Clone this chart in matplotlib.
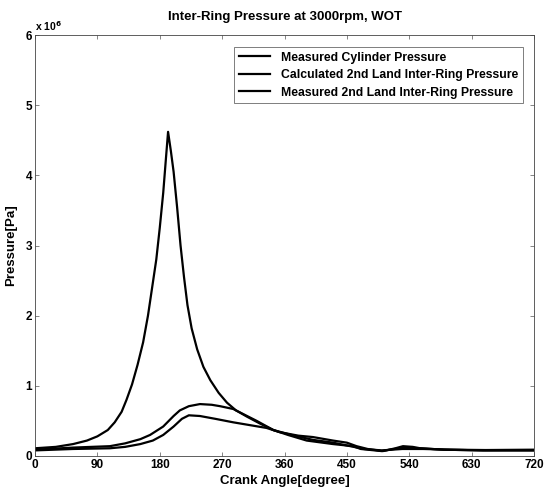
import matplotlib
matplotlib.use("Agg")
import matplotlib.pyplot as plt

plt.rcParams['font.family'] = ['Liberation Sans', 'DejaVu Sans']
plt.rcParams['font.weight'] = 'bold'

# Data (pressure in units of 1e6 Pa)
cyl_deg = [0, 30, 55, 75, 90, 105, 115, 125, 132, 140, 148, 156, 163, 169, 175, 180, 185,
           189, 192, 196, 200, 205, 210, 215, 220, 226, 234, 243, 253, 265, 277, 290, 306,
           325, 344, 370, 401, 430, 455, 475, 500, 530, 560, 600, 650, 720]
cyl_p = [0.11, 0.13, 0.17, 0.22, 0.28, 0.37, 0.48, 0.63, 0.80, 1.02, 1.30, 1.62, 2.00, 2.40,
         2.80, 3.25, 3.75, 4.25, 4.62, 4.35, 4.05, 3.55, 3.00, 2.55, 2.15, 1.82, 1.52, 1.27,
         1.08, 0.90, 0.76, 0.65, 0.56, 0.46, 0.37, 0.30, 0.23, 0.19, 0.14, 0.10, 0.08, 0.10,
         0.10, 0.09, 0.085, 0.09]

calc_deg = [0, 55, 108, 130, 152, 166, 185, 200, 209, 222, 238, 255, 267, 286, 300, 320,
            344, 365, 392, 430, 459, 470, 500, 531, 556, 590, 646, 720]
calc_p = [0.09, 0.12, 0.14, 0.18, 0.24, 0.30, 0.42, 0.57, 0.65, 0.71, 0.74, 0.73, 0.71,
          0.67, 0.60, 0.50, 0.37, 0.30, 0.22, 0.17, 0.14, 0.10, 0.07, 0.12, 0.11, 0.09,
          0.08, 0.08]

meas_deg = [0, 55, 108, 130, 152, 170, 185, 200, 212, 222, 238, 260, 286, 310, 334, 353,
            380, 401, 430, 450, 464, 480, 502, 520, 531, 545, 556, 590, 646, 720]
meas_p = [0.08, 0.10, 0.11, 0.13, 0.17, 0.22, 0.30, 0.42, 0.53, 0.58, 0.57, 0.53, 0.48,
          0.44, 0.40, 0.34, 0.29, 0.27, 0.22, 0.19, 0.14, 0.10, 0.07, 0.11, 0.14, 0.13,
          0.11, 0.09, 0.08, 0.08]

labels = ['Measured Cylinder Pressure',
          'Calculated 2nd Land Inter-Ring Pressure',
          'Measured 2nd Land Inter-Ring Pressure']
x_ticks = [0, 90, 180, 270, 360, 450, 540, 630, 720]
y_ticks = [0, 1, 2, 3, 4, 5, 6]

fig = plt.figure(figsize=(5.48, 4.92), dpi=100)
ax = fig.add_axes([35/548, 36/492, 499/548, 421/492])

lw = 1.6
ax.plot(cyl_deg, cyl_p, color='black', lw=lw, label=labels[0])
ax.plot(calc_deg, calc_p, color='black', lw=lw, label=labels[1])
ax.plot(meas_deg, meas_p, color='black', lw=lw, label=labels[2])

ax.set_xlim(0, 720)
ax.set_ylim(0, 6)
ax.set_xticks(x_ticks)
ax.set_yticks(y_ticks)
ax.tick_params(direction='in', top=True, right=True, length=3, width=0.5,
               labelsize=8.5, pad=2, color='#555555')
for t in ax.get_xticklabels() + ax.get_yticklabels():
    t.set_fontweight('bold')
for s in ax.spines.values():
    s.set_linewidth(0.6)
    s.set_color('#444444')

ax.set_xlabel('Crank Angle[degree]', fontsize=9.5, fontweight='bold', labelpad=3)
ax.set_ylabel('Pressure[Pa]', fontsize=9.5, fontweight='bold', labelpad=6)
ax.set_title('Inter-Ring Pressure at 3000rpm, WOT', fontsize=9.5, fontweight='bold', pad=11)
ax.text(0.0, 1.005, r'x 10$^6$', transform=ax.transAxes, fontsize=7.5,
        fontweight='bold', ha='left', va='bottom')

leg = ax.legend(loc='upper right', fontsize=8.8, frameon=True, fancybox=False,
                edgecolor='#444444', handlelength=2.6, handletextpad=0.9,
                borderpad=0.35, labelspacing=0.45, bbox_to_anchor=(0.99, 0.985))
leg.get_frame().set_linewidth(0.6)
for t in leg.get_texts():
    t.set_fontweight('bold')

fig.savefig('out.png', dpi=100)
